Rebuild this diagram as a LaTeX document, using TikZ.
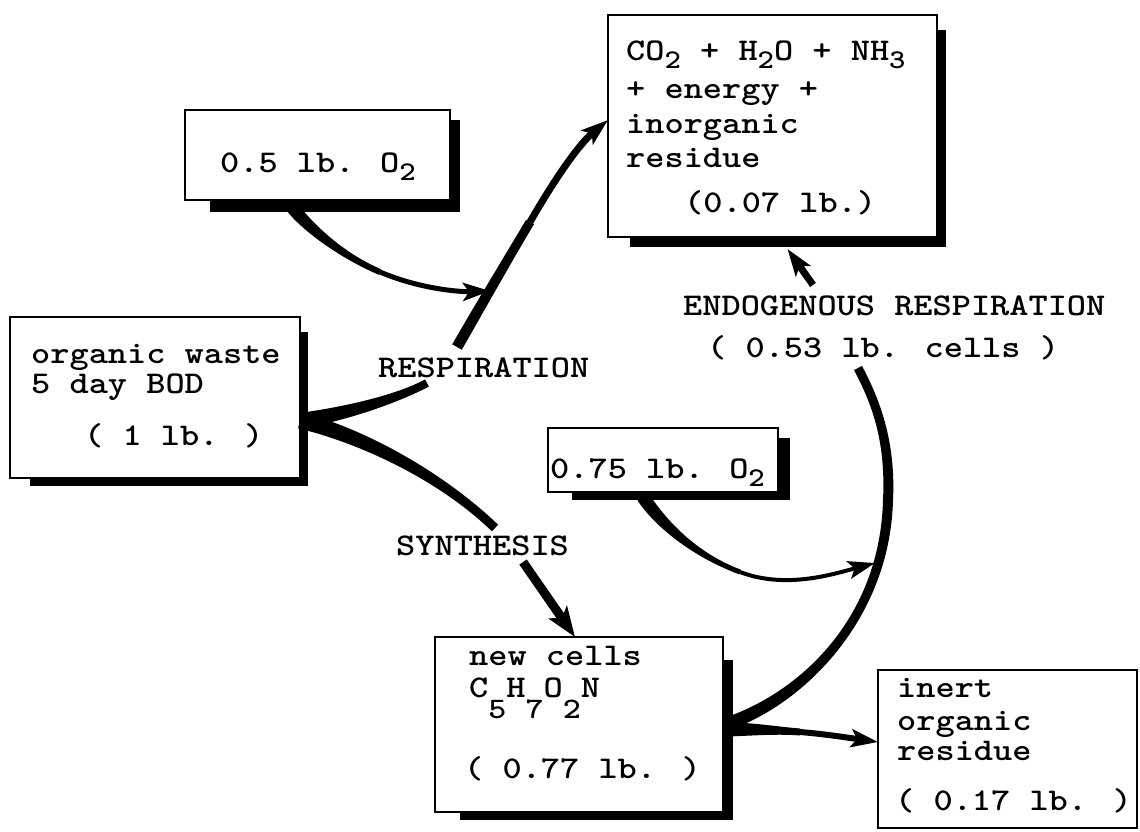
\documentclass[tikz,border=0pt]{standalone}
\usepackage{fontspec}
\usetikzlibrary{arrows.meta,calc}
\newcommand\tws[1]{\scalebox{1.075}[0.93]{#1}}
\newcommand\sbs[1]{\raisebox{-9pt}{\fontsize{29}{29}\selectfont #1}}
\newcommand\sbl[1]{\raisebox{-23pt}{\fontsize{32}{32}\selectfont #1}}
% tapered band along a cubic curve: #1..#4 points, #5 half width at start, #6 half width at end
\newcommand\taper[6]{\fill ($(#1)!#5!90:(#2)$) .. controls ($(#2)!#5!-90:(#1)$) and ($(#3)!#6!90:(#4)$) .. ($(#4)!#6!-90:(#3)$) -- ($(#4)!#6!90:(#3)$) .. controls ($(#3)!#6!-90:(#4)$) and ($(#2)!#5!90:(#1)$) .. ($(#1)!#5!-90:(#2)$) -- cycle;}
\newcommand\boxshadow[5]{\fill ([xshift=#2]#1.south west) rectangle ([xshift=#4,yshift=-#5]#1.south east);
  \fill ([yshift=-#3]#1.north east) rectangle ([xshift=#4,yshift=-#5]#1.south east);}
\begin{document}
\begin{tikzpicture}[x=1pt,y=-1pt,
  box/.style={draw,line width=2.6pt,anchor=north west,inner sep=0pt,outer sep=0pt},
  txt/.style={anchor=base west,inner sep=0pt,font={\ttfamily\bfseries\fontsize{34pt}{38pt}\selectfont}},
  arr/.style={-{Stealth[length=27pt,width=18pt,inset=6pt]}},
  arrbig/.style={-{Stealth[length=30pt,width=22pt,inset=7pt]}}]
\useasboundingbox (0,0) rectangle (1140,831);

% boxes
\node[box,minimum width=265pt,minimum height=90pt] (A) at (185,110) {};
\node[box,minimum width=329pt,minimum height=222pt] (B) at (608,15) {};
\node[box,minimum width=290pt,minimum height=161pt] (C) at (10,317) {};
\node[box,minimum width=230pt,minimum height=64pt] (D) at (548,428) {};
\node[box,minimum width=288pt,minimum height=175pt] (E) at (435,637) {};
\node[box,minimum width=259pt,minimum height=158pt] (F) at (878,670) {};

\boxshadow{A}{25pt}{10pt}{10pt}{12pt}
\boxshadow{B}{22pt}{15pt}{9pt}{10pt}
\boxshadow{C}{20pt}{15pt}{8pt}{8pt}
\boxshadow{D}{24pt}{10pt}{12pt}{8pt}
\boxshadow{E}{25pt}{23pt}{10pt}{8pt}

% texts
\node[txt] (tA) at (220,172) {\tws{0.5 lb. O\sbs{2}}};
\node[txt] (tB1) at (626,60) {\tws{CO\sbs{2} + H\sbs{2}O + NH\sbs{3}}};
\node[txt] (tB2) at (626,98) {\tws{+ energy +}};
\node[txt] (tB3) at (626,133) {\tws{inorganic}};
\node[txt] (tB4) at (626,167) {\tws{residue}};
\node[txt] (tB5) at (684,212) {\tws{(0.07 lb.)}};
\node[txt] (tC1) at (31,363) {\tws{organic waste}};
\node[txt] (tC2) at (31,393) {\tws{5 day BOD}};
\node[txt] (tC3) at (84,445) {\tws{( 1 lb. )}};
\node[txt] (resp) at (378,377) {\tws{RESPIRATION}};
\node[txt] (endo) at (683,315) {\tws{ENDOGENOUS RESPIRATION}};
\node[txt] (endo2) at (707,357) {\tws{( 0.53 lb. cells )}};
\node[txt] (synt) at (396,555) {\tws{SYNTHESIS}};
\node[txt] (tD) at (550,478) {\tws{0.75 lb. O\sbs{2}}};
\node[txt] (tE1) at (469,665) {\tws{new cells}};
\node[txt] (tE2) at (469,697) {\tws{C\sbl{5}H\sbl{7}O\sbl{2}N}};
\node[txt] (tE3) at (464,778) {\tws{( 0.77 lb. )}};
\node[txt] (tF1) at (897,697) {\tws{inert}};
\node[txt] (tF2) at (897,730) {\tws{organic}};
\node[txt] (tF3) at (897,760) {\tws{residue}};
\node[txt] (tF4) at (895,810) {\tws{( 0.17 lb. )}};

% connector points
\coordinate (J) at ([yshift=-23pt]C.east);
\coordinate (a0) at ([xshift=-27pt,yshift=-5pt]A.south);
\coordinate (r2) at (457,347);
\coordinate (s2) at (523,562);
\coordinate (e0) at ([xshift=2pt]E.east);
\coordinate (e1) at ([xshift=2pt,yshift=-5pt]E.east);
\coordinate (arcend) at (858,368);
\coordinate (endo0) at (813,285);
\coordinate (d0) at ([xshift=-20pt,yshift=-5pt]D.south);

% respiration: C -> B, interrupted by its label
\taper{J}{340,415}{395,400}{427,383}{7.5pt}{4pt}
\taper{r2}{480,307}{505,264}{530,222}{5.5pt}{4.5pt}
\draw[line width=7pt,arr] (530,222) .. controls (553,182) and (578,145) .. ([yshift=6pt]B.west);

% oxygen 0.5 lb -> respiration
\taper{a0}{305,225}{340,255}{380,272}{6.5pt}{3pt}
\draw[line width=5pt,arr] (380,272) .. controls (420,289) and (460,292) .. (490,291);

% synthesis: C -> E
\taper{J}{360,435}{440,475}{495,528}{8pt}{4.5pt}
\draw[line width=9pt,arrbig] (s2) -- ([xshift=-4pt]E.north);

% endogenous respiration: E -> B
\taper{e0}{800,700}{885,620}{888,500}{6.5pt}{5pt}
\taper{888,500}{891,440}{875,400}{arcend}{5pt}{4.5pt}
\draw[line width=7pt,arr] (endo0) -- ([xshift=15pt,yshift=-12pt]B.south);

% oxygen 0.75 lb -> endogenous arc
\taper{d0}{662,525}{695,555}{740,572}{6.5pt}{2.5pt}
\draw[line width=4pt,arr] (740,572) .. controls (785,589) and (830,575) .. (875,563);

% E -> inert residue
\taper{e1}{750,729}{775,730}{800,732}{7pt}{3.5pt}
\draw[line width=6pt,arr] (800,732) .. controls (825,734) and (850,738) .. ([yshift=7pt]F.west);
\end{tikzpicture}
\end{document}
